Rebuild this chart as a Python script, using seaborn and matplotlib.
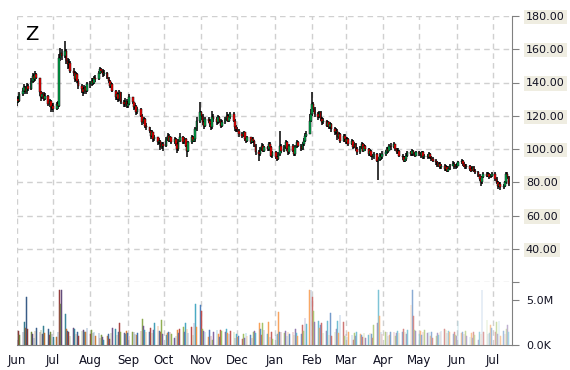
import numpy as np
import pandas as pd
import seaborn as sns
import matplotlib
matplotlib.use('Agg')
import matplotlib.pyplot as plt
import matplotlib.dates as mdates
from matplotlib.colors import to_rgb

sns.set_style('white')
plt.rcParams['font.family'] = ['DejaVu Sans']

TICKER = 'Z'
START = '2022-06-01'
FIRST_OPEN = 128

# daily closes, one line per month (Jun 2022 .. Jul 2023)
closes = [
    130, 129, 133, 135, 137, 134, 138, 136, 141, 144, 142, 145, 143, 134, 131, 133, 130, 132, 127, 129, 125, 126,
    124, 127, 126, 155, 158, 156, 159, 153, 151, 152, 147, 146, 142, 145, 141, 138, 136, 134, 137, 135, 139,
    139, 141, 140, 143, 142, 146, 148, 147, 145, 146, 143, 141, 138, 139, 135, 131, 133, 130, 134, 128, 127, 129, 126,
    127, 131, 128, 125, 126, 122, 124, 120, 116, 118, 114, 113, 111, 108, 110, 106, 107, 104, 105, 101, 103, 102,
    106, 108, 105, 107, 104, 106, 103, 100, 105, 107, 104, 106, 102, 99, 104, 107, 105, 106, 112, 117, 122,
    120, 116, 114, 118, 117, 115, 113, 119, 118, 116, 119, 117, 114, 116, 118, 120, 117, 119, 121, 117, 113, 112,
    111, 109, 108, 110, 106, 105, 107, 104, 106, 105, 102, 98, 97, 100, 102, 99, 101, 100, 103, 101, 96, 98,
    95, 94, 97, 102, 99, 101, 104, 100, 98, 102, 99, 97, 101, 104, 102, 100, 103, 105, 108, 109, 117, 121,
    127, 124, 121, 119, 122, 118, 116, 117, 114, 116, 113, 115, 112, 110, 111, 107, 109, 105, 108, 106,
    104, 106, 103, 105, 101, 103, 100, 98, 101, 103, 99, 102, 100, 97, 99, 96, 95, 97, 93, 94, 96, 95, 97,
    98, 100, 99, 102, 101, 103, 100, 98, 99, 96, 95, 93, 94, 96, 98, 97, 99, 97, 96, 98,
    97, 96, 98, 95, 96, 95, 97, 95, 94, 93, 92, 90, 91, 89, 90, 88, 89, 87, 88, 90, 91, 89, 90,
    90, 92, 93, 91, 90, 89, 90, 88, 87, 89, 87, 86, 84, 82, 80, 83, 85, 84, 85, 83, 84, 85,
    82, 80, 78, 79, 77, 78, 80, 85, 83, 79,
]

highs = [
    131.5, 132, 134, 136.5, 139, 138, 139.5, 139, 142.5, 146, 145, 147, 146, 143, 135, 134.5, 134, 133.5, 132.5, 130, 129.5, 127.5,
    127.5, 128, 129, 157, 161, 160, 165, 160, 155, 154, 153, 149, 147, 146.5, 145.5, 142, 139, 137.5, 138.5, 138, 140.5,
    141, 142.5, 142.5, 144, 144.5, 147, 149.5, 149, 148, 147.5, 146.5, 143.5, 141.5, 140.5, 139.5, 135.5, 134.5, 133.5, 135.5, 134, 129.5, 130.5, 130,
    129, 133, 131.5, 128.5, 127.5, 126.5, 125, 124.5, 121, 119, 118.5, 115.5, 113.5, 111.5, 111.5, 110.5, 108.5, 107.5, 106.5, 105.5, 104.5, 104,
    107, 109.5, 109, 108, 107.5, 107, 106.5, 104, 106, 109.5, 108, 107, 106.5, 103, 105, 108.5, 108, 107.5, 113.5, 119, 128,
    123, 121, 117, 119, 119.5, 118, 116, 123, 121, 119, 120.5, 120, 118, 117.5, 119.5, 122, 121, 120.5, 122.5, 122, 118, 114.5,
    113, 112, 110, 111, 110.5, 107, 108, 107.5, 107, 107, 105.5, 103, 99.5, 101, 103.5, 103, 102, 102, 104.5, 104, 102, 99,
    99, 96, 98, 111, 103, 102.5, 105.5, 105, 101, 103, 103, 100, 102.5, 105.5, 105, 103, 104.5, 106.5, 109.5, 111, 121, 124,
    134, 128.5, 125, 122.5, 123, 123, 119, 118.5, 117.5, 117, 116.5, 116.5, 115.5, 113, 112.5, 112, 110, 109.5, 109, 109,
    107, 107.5, 106.5, 106, 105.5, 104, 103.5, 101, 102, 104.5, 103.5, 103, 102.5, 100.5, 100, 99.5, 97, 98, 97.5, 95, 97.5, 97, 98.5,
    99.5, 101.5, 101, 103, 103.5, 104.5, 103, 100.5, 100.5, 99.5, 97, 96, 95.5, 97.5, 99, 99, 100, 99.5, 98, 99,
    99, 98, 99, 98.5, 97, 97, 98, 97.5, 96, 95, 94, 93, 92, 92, 91, 91, 90.5, 90, 89.5, 91, 92.5, 92, 91,
    91.5, 93, 94, 93.5, 92, 91, 91, 90.5, 89, 89.5, 89.5, 88, 87, 85, 83, 84, 86, 86, 86, 85.5, 85, 86,
    86, 83, 81, 80, 80, 79, 81, 86, 86, 84,
]

lows = [
    126, 127.5, 128, 132, 134, 133, 133, 135, 135.5, 140, 140.5, 141, 142, 132, 129, 130, 129, 129.5, 126, 125, 122, 123.5,
    122.5, 123.5, 124, 125, 153, 153.5, 154.5, 151, 148, 149, 145.5, 144, 140.5, 141, 139.5, 136, 133.5, 132, 133, 133, 134.5,
    136.5, 138, 138.5, 139, 140.5, 141.5, 145, 145.5, 143.5, 144, 142, 139.5, 136.5, 136.5, 134, 129.5, 129.5, 128.5, 129, 127, 125, 125.5, 124.5,
    124.5, 126.5, 127, 123.5, 124, 120.5, 121, 119, 114.5, 115, 112.5, 111.5, 109.5, 106, 107, 104.5, 105, 102.5, 103, 99.5, 100, 99,
    101, 105, 104, 104, 103, 103, 102, 97.5, 99, 104, 103, 103, 101, 95, 98, 103, 104, 104, 104.5, 111, 115.5,
    117.5, 114.5, 112, 113, 115.5, 113.5, 111.5, 112, 116, 114.5, 115, 115.5, 112.5, 113, 115, 117, 116, 116.5, 118, 116, 111, 110,
    110, 107.5, 106.5, 107, 105, 103.5, 104, 103, 103.5, 103.5, 101, 96.5, 93, 96, 99, 98, 98, 98.5, 99, 100, 95, 94.5,
    94, 92.5, 93.5, 96, 97.5, 98, 100, 99, 96.5, 97, 98, 95.5, 96, 100.5, 101, 99, 99.5, 102, 104.5, 107, 110, 116,
    120, 122, 119.5, 117.5, 118.5, 117, 114.5, 115, 113, 113, 112, 112, 110.5, 108.5, 109, 105.5, 106, 103.5, 104, 104.5,
    103, 103, 102, 102.5, 100, 100.5, 99, 96.5, 97, 100, 98, 98.5, 99, 96, 96, 95, 93.5, 94, 92, 81.5, 93, 93.5, 94,
    96, 97, 97.5, 98.5, 99.5, 100.5, 99, 97, 97, 95, 93.5, 92, 92, 93, 95, 95.5, 96, 96, 95, 95.5,
    96, 94.5, 95.5, 94, 94, 94, 94.5, 94, 93, 92, 90.5, 89, 89, 88, 88, 87, 87, 86, 86, 87.5, 89.5, 88, 88,
    88.5, 89.5, 91, 90, 89, 88, 88, 87, 86, 86.5, 86, 85, 83, 80.5, 78, 79, 82.5, 83, 83, 82, 82.5, 83,
    81, 79, 76, 77, 75.5, 76, 77, 79, 82, 78,
]

# daily volume, millions of shares
volume_m = [
    1.0, 1.6, 1.1, 1.4, 2.6, 1.9, 5.3, 1.8, 1.5, 1.2, 0.8, 1.6, 1.9, 1.4, 1.7, 1.2, 2.1, 1.3, 1.8, 1.1, 1.5, 1.2,
    0.9, 0.9, 1.4, 6.1, 4.6, 6.1, 3.4, 1.8, 1.6, 1.5, 1.0, 1.9, 1.8, 1.2, 1.5, 1.0, 1.6, 1.7, 1.4, 1.5, 1.9,
    1.2, 1.7, 1.3, 1.5, 1.0, 1.3, 0.8, 1.1, 0.9, 0.6, 1.0, 1.2, 0.7, 1.3, 1.9, 1.8, 1.1, 1.4, 2.5, 1.5, 1.3, 1.2, 1.6,
    1.3, 1.0, 1.4, 1.5, 1.2, 1.1, 1.3, 1.6, 2.9, 2.1, 1.7, 1.5, 1.4, 1.9, 1.3, 1.7, 2.4, 2.1, 1.6, 1.4, 2.8, 1.2,
    1.1, 1.3, 1.5, 1.4, 1.2, 0.8, 1.0, 1.7, 1.3, 1.8, 2.0, 1.4, 2.4, 1.8, 1.3, 2.0, 1.1, 2.4, 4.6, 2.0, 4.5,
    3.8, 1.8, 1.6, 1.4, 0.9, 1.7, 1.0, 0.6, 1.4, 1.7, 1.2, 0.9, 1.7, 1.6, 1.5, 1.8, 1.3, 1.2, 1.6, 1.4, 0.8, 1.2,
    0.9, 1.0, 0.7, 1.2, 0.8, 1.3, 1.0, 1.1, 0.8, 1.4, 1.6, 1.3, 2.5, 1.8, 1.1, 2.5, 1.7, 1.2, 2.6, 0.9, 1.4, 0.7,
    1.1, 1.2, 3.7, 1.4, 1.5, 1.3, 1.6, 1.0, 1.4, 1.2, 1.5, 1.1, 1.8, 1.3, 1.0, 1.2, 2.2, 1.6, 3.0, 2.3, 6.1, 6.1,
    5.3, 3.8, 2.6, 2.7, 1.9, 2.2, 2.4, 1.3, 1.6, 2.7, 1.1, 3.6, 1.0, 1.5, 1.8, 2.7, 1.3, 3.3, 2.6, 1.0,
    1.2, 0.9, 1.5, 1.1, 0.6, 1.3, 1.0, 1.4, 1.2, 1.1, 0.9, 1.3, 0.8, 1.1, 1.3, 1.2, 0.8, 2.2, 2.5, 6.1, 3.2, 1.5, 1.2,
    1.4, 1.5, 1.0, 1.1, 1.5, 1.5, 1.0, 1.3, 1.6, 1.3, 1.5, 1.8, 1.4, 1.2, 1.7, 4.4, 6.1, 3.2, 1.7, 1.6,
    1.2, 1.6, 1.1, 1.5, 1.7, 1.3, 1.5, 1.0, 1.4, 0.8, 1.0, 1.3, 1.1, 1.4, 1.6, 1.8, 1.7, 1.3, 1.6, 1.5, 1.2, 1.4, 1.1,
    1.0, 2.7, 1.3, 1.5, 1.2, 1.6, 1.0, 0.9, 1.3, 0.8, 1.5, 1.1, 0.6, 1.4, 1.2, 6.1, 1.5, 2.8, 1.2, 1.3, 2.2, 1.9,
    1.5, 2.6, 1.2, 2.7, 1.0, 1.6, 1.2, 1.8, 2.2, 1.4,
]

price_ticks = [20, 40, 60, 80, 100, 120, 140, 160, 180]
vol_ticks = [0, 5e6]
vol_tick_labels = ['0.0K', '5.0M']

n = min(len(closes), len(highs), len(lows), len(volume_m))
df = pd.DataFrame({
    'close': closes[:n],
    'open': ([FIRST_OPEN] + closes[:-1])[:n],   # each day opens at the prior close
    'high': highs[:n],
    'low': lows[:n],
    'volume': np.array(volume_m[:n]) * 1e6,
})
df['date'] = pd.bdate_range(START, periods=n)
df['high'] = df[['high', 'open', 'close']].max(axis=1)
df['low'] = df[['low', 'open', 'close']].min(axis=1)

UP, DOWN = '#00B050', '#FF0000'
GRID = '#d0d0d0'
AXIS = '#808080'
office = sns.color_palette(['#4F81BD', '#C0504D', '#9BBB59', '#8064A2', '#4BACC6', '#F79646'])


def shade(c, f):
    c = np.array(to_rgb(c))
    return tuple(c * (1 + f)) if f < 0 else tuple(c + (1 - c) * f)


# volume bars go from dark shades early on to pale tints at the end
vol_colors = [shade(office[i % 6], -0.3 + 0.8 * i / (n - 1)) for i in range(n)]

W, H = 570, 370
fig = plt.figure(figsize=(W / 100, H / 100), dpi=100)
left, right = 17, 512
ax = fig.add_axes([left / W, 1 - 282 / H, (right - left) / W, (282 - 16) / H])
axv = fig.add_axes([left / W, 1 - 345 / H, (right - left) / W, (345 - 282) / H], sharex=ax)
axv.patch.set_alpha(0)

x = mdates.date2num(df['date'])
body_lo = df[['open', 'close']].min(axis=1)
body_h = (df['close'] - df['open']).abs().clip(lower=0.5)
colors = np.where(df['close'] >= df['open'], UP, DOWN)

ax.vlines(x, df['low'], df['high'], color='black', lw=1.1, zorder=3)
ax.bar(x, body_h, bottom=body_lo, width=1.4, color=colors, edgecolor='black',
       lw=0.35, zorder=4)
axv.bar(x, df['volume'], width=0.6, color=vol_colors, edgecolor=vol_colors,
        lw=0.35, zorder=3)

xmin = mdates.date2num(pd.Timestamp('2022-06-01'))
xmax = mdates.date2num(pd.Timestamp('2023-07-16 20:00'))
ax.set_xlim(xmin, xmax)
ax.set_ylim(20, 180)
axv.set_ylim(0, 7.0e6)

dash = (0, (4, 3))
for a in (ax, axv):
    a.xaxis.set_major_locator(mdates.MonthLocator())
    a.grid(True, axis='x', color=GRID, linestyle=dash, lw=1.0, zorder=0)
    for s in ('top', 'left'):
        a.spines[s].set_visible(False)
    a.spines['right'].set_color(AXIS)
    a.yaxis.tick_right()
ax.grid(True, axis='y', color=GRID, linestyle=dash, lw=1.0, zorder=0)
ax.spines['bottom'].set_visible(False)
axv.spines['bottom'].set_color(AXIS)

ax.set_yticks(price_ticks, [''] + [f'{v:.2f}' for v in price_ticks[1:]])
ax.tick_params(axis='y', length=5, color=AXIS, labelsize=8, pad=5, labelcolor='#111122')
ax.tick_params(axis='x', length=0, labelbottom=False)
for t in ax.get_yticklabels():
    t.set_bbox(dict(facecolor='#EFEDE1', edgecolor='none', pad=1.5))

axv.set_yticks(vol_ticks, vol_tick_labels)
axv.tick_params(axis='y', length=5, color=AXIS, labelsize=8, pad=5, labelcolor='#111122')
axv.xaxis.set_major_formatter(mdates.DateFormatter('%b'))
axv.tick_params(axis='x', length=5, color=AXIS, labelsize=8.5, pad=1.5, labelcolor='#111122')

fig.text(25 / W, 1 - 40 / H, TICKER, fontsize=14, va='baseline', ha='left', color='black')

fig.savefig('out.png', dpi=100)
